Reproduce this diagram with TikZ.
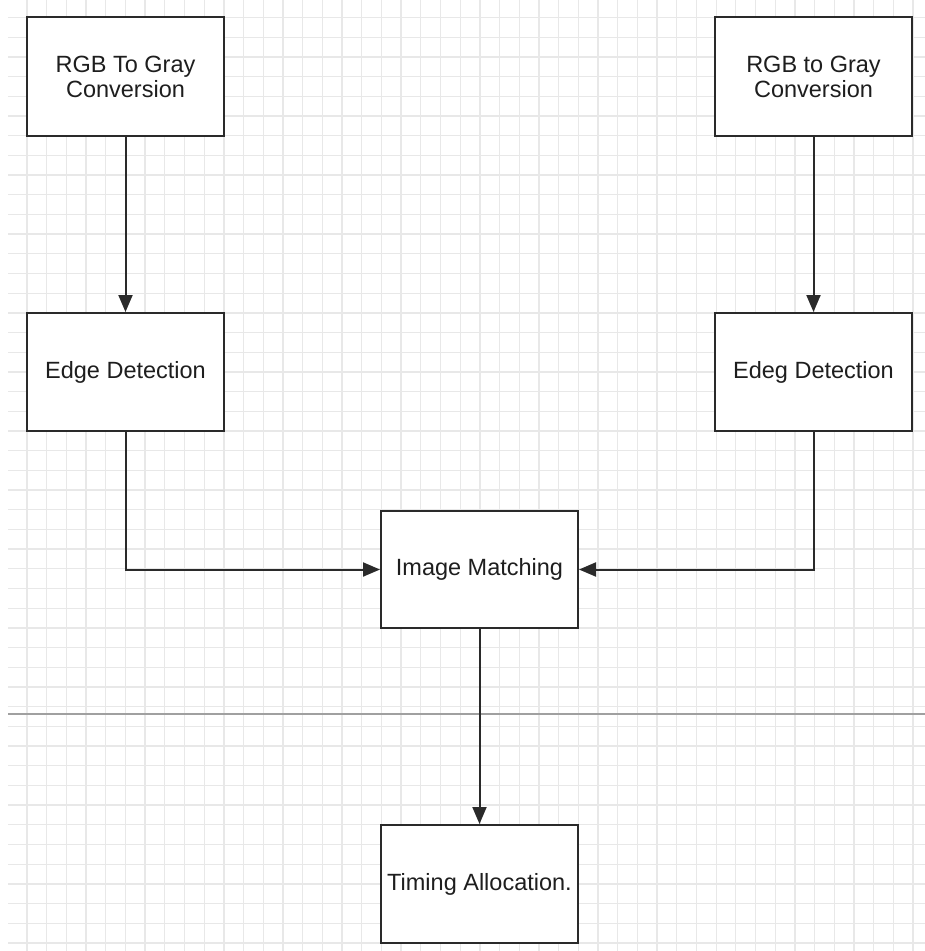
\documentclass[tikz,border=0pt]{standalone}
\usepackage{fontspec}
\setmainfont{Liberation Sans}
\usetikzlibrary{arrows.meta}

\definecolor{gridgray}{HTML}{E8E8E8}
\definecolor{rulegray}{HTML}{A0A0A0}
\definecolor{boxline}{HTML}{2A2A2A}
\definecolor{inkgray}{HTML}{1E1E1E}

\tikzset{
  gridline/.style={draw=gridgray, line width=1.3pt},
  procbox/.style={draw=boxline, line width=2pt, fill=white, text=inkgray,
    minimum width=197pt, minimum height=118pt, inner sep=0pt, align=center,
    font=\fontsize{23.5}{25}\selectfont},
  flow/.style={draw=boxline, line width=2pt,
    -{Triangle[length=17pt, width=14pt]}},
}

\begin{document}
\begin{tikzpicture}[x=1pt, y=-1pt]
  \useasboundingbox (0,0) rectangle (925,951);
  \fill[white] (0,0) rectangle (925,951);

  % background grid
  \foreach \i in {0,...,45}
    \draw[gridline] ({27+19.69*\i},0) -- ({27+19.69*\i},951);
  \foreach \j in {0,...,47}
    \draw[gridline] (8,{17.5+19.69*\j}) -- (925,{17.5+19.69*\j});

  % horizontal rule across the sheet
  \draw[draw=rulegray, line width=1.5pt] (8,714) -- (925,714);

  % process boxes
  \node[procbox, minimum height=119pt] (rgbL) at (125.5,76.5) {RGB To Gray\\Conversion};
  \node[procbox, minimum height=119pt] (rgbR) at (813.5,76.5) {RGB to Gray\\Conversion};
  \node[procbox] (edgeL) at (125.5,372) {Edge Detection};
  \node[procbox] (edgeR) at (813.5,372) {Edeg Detection};
  \node[procbox, minimum height=117pt] (match) at (479.5,569.5) {Image Matching};
  \node[procbox] (timing) at (479.5,884) {Timing Allocation.};

  % connectors
  \draw[flow] (rgbL) -- (edgeL);
  \draw[flow] (rgbR) -- (edgeR);
  \draw[flow] (edgeL.south) |- (match.west);
  \draw[flow] (edgeR.south) |- (match.east);
  \draw[flow] (match) -- (timing);
\end{tikzpicture}
\end{document}
